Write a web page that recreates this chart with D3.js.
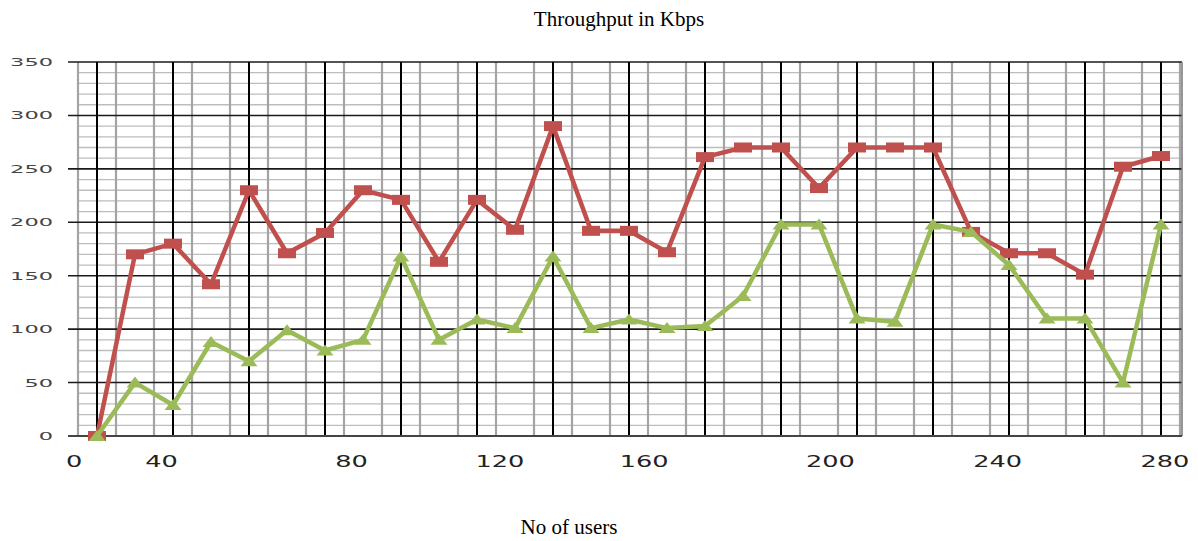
<!DOCTYPE html>
<html>
<head>
<meta charset="utf-8">
<script src="https://d3js.org/d3.v7.min.js"></script>
<style>
body { margin: 0; background: #ffffff; }
.title { font-family: 'Liberation Serif', 'Times New Roman', serif; font-size: 21px; fill: #000; }
.tick { font-family: 'DejaVu Sans', Verdana, sans-serif; }
</style>
</head>
<body>
<svg id="chart" width="1198" height="541"></svg>
<script>
// number of users (x) for each sample
var users = [0, 10, 20, 30, 40, 50, 60, 70, 80, 90, 100, 110, 120, 130, 140,
             150, 160, 170, 180, 190, 200, 210, 220, 230, 240, 250, 260, 270, 280];
// throughput in kbps, red series (squares)
var redSeries = [0, 170, 180, 142, 230, 171, 190, 230, 221, 163, 221, 193, 290, 192, 192,
                 172, 261, 270, 270, 232, 270, 270, 270, 191, 171, 171, 151, 252, 262];
// throughput in kbps, green series (triangles)
var greenSeries = [0, 50, 29, 88, 70, 99, 80, 90, 168, 90, 109, 101, 168, 101, 109,
                   101, 103, 131, 198, 198, 110, 107, 198, 191, 160, 110, 110, 50, 198];
// axis labels (x labels sit where the source chart put them, in data units)
var xTickLabels = ["0", "40", "80", "120", "160", "200", "240", "280"];
var xTickAt = [-6, 17, 67, 106, 144, 193, 237, 281];
var yTicks = [0, 50, 100, 150, 200, 250, 300, 350];

var svg = d3.select("#chart");

var x = d3.scaleLinear().domain([-5, 285]).range([78, 1180]);
var y = d3.scaleLinear().domain([0, 350]).range([436, 62]);

// ---- grid ----
var minorX = d3.range(-5, 290, 10);
var majorX = d3.range(0, 281, 20);
var minorY = d3.range(10, 350, 10).filter(function (v) { return v % 50 !== 0; });

svg.append("g").selectAll("line").data(minorY).enter().append("line")
    .attr("x1", x(-5)).attr("x2", 1182)
    .attr("y1", function (d) { return y(d); }).attr("y2", function (d) { return y(d); })
    .attr("stroke", "#bdbdbd").attr("stroke-width", 1.3);

svg.append("g").selectAll("line").data(minorX).enter().append("line")
    .attr("x1", function (d) { return x(d); }).attr("x2", function (d) { return x(d); })
    .attr("y1", y(350)).attr("y2", y(0))
    .attr("stroke", "#a4a4a4").attr("stroke-width", 2.2);

svg.append("g").selectAll("line").data(yTicks).enter().append("line")
    .attr("x1", 68).attr("x2", 1182)
    .attr("y1", function (d) { return y(d); }).attr("y2", function (d) { return y(d); })
    .attr("stroke", "#1a1a1a").attr("stroke-width", 1.6);

svg.append("g").selectAll("line").data(majorX).enter().append("line")
    .attr("x1", function (d) { return x(d); }).attr("x2", function (d) { return x(d); })
    .attr("y1", y(350)).attr("y2", y(0))
    .attr("stroke", "#000").attr("stroke-width", 2);

// right border
svg.append("line")
    .attr("x1", 1182).attr("x2", 1182).attr("y1", y(350)).attr("y2", y(0))
    .attr("stroke", "#777").attr("stroke-width", 1.5);
// bottom axis
svg.append("line")
    .attr("x1", 68).attr("x2", 1182).attr("y1", y(0)).attr("y2", y(0))
    .attr("stroke", "#444").attr("stroke-width", 2);

// ---- tick labels (stretched like the source image) ----
svg.append("g").selectAll("text").data(yTicks).enter().append("text")
    .attr("class", "tick")
    .attr("transform", function (d) { return "translate(53," + (y(d) + 4) + ") scale(2.25,1.1)"; })
    .attr("text-anchor", "end")
    .style("font-size", "10px")
    .style("fill", "#444")
    .text(function (d) { return d; });

svg.append("g").selectAll("text").data(xTickLabels).enter().append("text")
    .attr("class", "tick")
    .attr("transform", function (d, i) { return "translate(" + x(xTickAt[i]) + ",467) scale(1.6,1)"; })
    .attr("text-anchor", "middle")
    .style("font-size", "16px")
    .style("fill", "#222")
    .text(function (d) { return d; });

// ---- series ----
var line = d3.line()
    .x(function (d) { return x(d[0]); })
    .y(function (d) { return y(d[1]); });

var redPts = users.map(function (u, i) { return [u, redSeries[i]]; });
var greenPts = users.map(function (u, i) { return [u, greenSeries[i]]; });

svg.append("path").datum(redPts)
    .attr("d", line).attr("fill", "none")
    .attr("stroke", "#c0504d").attr("stroke-width", 4.5).attr("stroke-linejoin", "round");

svg.append("g").selectAll("rect").data(redPts).enter().append("rect")
    .attr("x", function (d) { return x(d[0]) - 9; })
    .attr("y", function (d) { return y(d[1]) - 5; })
    .attr("width", 18).attr("height", 10)
    .attr("fill", "#c0504d");

svg.append("path").datum(greenPts)
    .attr("d", line).attr("fill", "none")
    .attr("stroke", "#9bbb59").attr("stroke-width", 4.5).attr("stroke-linejoin", "round");

svg.append("g").selectAll("path").data(greenPts).enter().append("path")
    .attr("d", function (d) {
        var cx = x(d[0]), cy = y(d[1]);
        return "M" + (cx - 8.5) + "," + (cy + 5) + "L" + cx + "," + (cy - 6) + "L" + (cx + 8.5) + "," + (cy + 5) + "Z";
    })
    .attr("fill", "#9bbb59");

// ---- titles ----
svg.append("text").attr("class", "title")
    .attr("x", 619).attr("y", 26).attr("text-anchor", "middle")
    .text("Throughput in Kbps");

svg.append("text").attr("class", "title")
    .attr("x", 569).attr("y", 534).attr("text-anchor", "middle")
    .text("No of users");
</script>
</body>
</html>
